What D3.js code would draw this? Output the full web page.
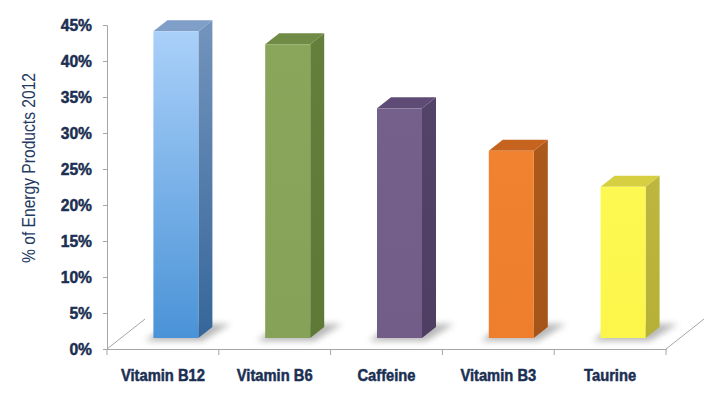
<!DOCTYPE html>
<html>
<head>
<meta charset="utf-8">
<script src="https://cdn.jsdelivr.net/npm/d3@7"></script>
<style>
  body { margin: 0; background: #fff; }
  svg { display: block; }
</style>
</head>
<body>
<div id="chart"></div>
<script>
// Share of energy products (2012) containing each ingredient
const categories = ['Vitamin B12', 'Vitamin B6', 'Caffeine', 'Vitamin B3', 'Taurine'];
const values = [42.6, 40.8, 31.9, 26, 21];
const yTicks = [0, 5, 10, 15, 20, 25, 30, 35, 40, 45];

// front / side / top colours for each bar (front uses a gradient top->bottom)
const frontTop = ['#aad0f9', '#8aa65b', '#75608c', '#f08230', '#fdf952'];
const frontBottom = ['#4a93d7', '#86a258', '#725c88', '#ee7e2b', '#fcf64a'];
const sideTop = ['#7394bd', '#647e3c', '#534368', '#ab5a1c', '#bdb73f'];
const sideBottom = ['#36669a', '#5e7836', '#4e3e62', '#a65519', '#b6b036'];
const topFace = ['#7f9fc8', '#6f8b45', '#5f4c76', '#c6641f', '#d6cf42'];

const width = 720;
const height = 399;
const margin = { top: 25, right: 54, bottom: 50, left: 107 };

// 3d offsets
const floorDx = 38, floorDy = 30;   // depth of the floor
const barShiftX = 13, barShiftY = 11; // front face of bar sits this far back
const depthX = 14, depthY = 11;     // depth of a bar
const barWidth = 45;

const labelColor = '#1b2f53';

const svg = d3.select('#chart').append('svg')
  .attr('width', width)
  .attr('height', height);

const xScale = d3.scaleBand()
  .domain(categories)
  .range([margin.left, width - margin.right])
  .paddingInner(0)
  .paddingOuter(0);

const yScale = d3.scaleLinear()
  .domain([0, 45])
  .range([height - margin.bottom, margin.top]);

const y0 = yScale(0);
const xEnd = width - margin.right;

const defs = svg.append('defs');
defs.append('filter')
  .attr('id', 'blur')
  .attr('x', '-50%').attr('y', '-50%').attr('width', '200%').attr('height', '200%')
  .append('feGaussianBlur')
  .attr('stdDeviation', 3);

categories.forEach((c, i) => {
  const g1 = defs.append('linearGradient')
    .attr('id', 'front' + i).attr('x1', 0).attr('y1', 0).attr('x2', 0).attr('y2', 1);
  g1.append('stop').attr('offset', '0%').attr('stop-color', frontTop[i]);
  g1.append('stop').attr('offset', '100%').attr('stop-color', frontBottom[i]);
  const g2 = defs.append('linearGradient')
    .attr('id', 'side' + i).attr('x1', 0).attr('y1', 0).attr('x2', 0).attr('y2', 1);
  g2.append('stop').attr('offset', '0%').attr('stop-color', sideTop[i]);
  g2.append('stop').attr('offset', '100%').attr('stop-color', sideBottom[i]);
});

// floor edges
svg.append('g')
  .attr('stroke', '#a6a6a6')
  .attr('stroke-width', 1)
  .selectAll('line')
  .data([margin.left, xEnd])
  .enter().append('line')
  .attr('x1', d => d)
  .attr('y1', y0)
  .attr('x2', d => d + floorDx)
  .attr('y2', y0 - floorDy);

// heavy, slightly condensed label text
function styleLabels(sel, size) {
  sel.attr('fill', labelColor)
    .attr('stroke', labelColor)
    .attr('stroke-width', 0.5)
    .attr('font-family', 'Liberation Sans, Arial, sans-serif')
    .attr('font-weight', 'bold')
    .attr('font-size', size + 'px')
    .each(function () {
      const len = this.getComputedTextLength();
      d3.select(this).attr('textLength', len * 0.92).attr('lengthAdjust', 'spacingAndGlyphs');
    });
}

// y axis
const yAxis = svg.append('g')
  .attr('transform', `translate(${margin.left},0)`)
  .call(d3.axisLeft(yScale).tickValues(yTicks).tickFormat(d => d + '%').tickSize(4).tickPadding(11));
yAxis.select('.domain').attr('stroke', '#a6a6a6');
yAxis.selectAll('.tick line').attr('stroke', '#a6a6a6');
styleLabels(yAxis.selectAll('text'), 17);

// x axis
const xAxis = svg.append('g')
  .attr('transform', `translate(0,${y0})`)
  .call(d3.axisBottom(xScale).tickSize(0).tickPadding(21));
xAxis.select('.domain').attr('stroke', '#a6a6a6');
styleLabels(xAxis.selectAll('text'), 16);
xAxis.append('g')
  .selectAll('line')
  .data(d3.range(categories.length + 1))
  .enter().append('line')
  .attr('x1', d => margin.left + d * xScale.bandwidth())
  .attr('x2', d => margin.left + d * xScale.bandwidth())
  .attr('y1', 0)
  .attr('y2', 6)
  .attr('stroke', '#a6a6a6');

// axis title
svg.append('text')
  .attr('transform', `translate(35,168) rotate(-90)`)
  .attr('text-anchor', 'middle')
  .attr('fill', '#1f3a63')
  .attr('font-family', 'Liberation Sans, Arial, sans-serif')
  .attr('font-size', '18px')
  .attr('textLength', 190)
  .attr('lengthAdjust', 'spacingAndGlyphs')
  .text('% of Energy Products 2012');

// bars
const bars = svg.selectAll('.bar')
  .data(categories.map((c, i) => ({ c, v: values[i], i })))
  .enter().append('g')
  .attr('class', 'bar');

const x0 = d => xScale(d.c) + xScale.bandwidth() / 2 - barWidth / 2 + barShiftX;
const x1 = d => x0(d) + barWidth;
const yb = y0 - barShiftY;
const yt = d => yScale(d.v) - barShiftY;

// shadow on the floor
bars.append('path')
  .attr('d', d => `M${x0(d) - 8},${yb + 3} L${x1(d) + 4},${yb + 3} L${x1(d) + depthX + 18},${yb - depthY - 3} L${x0(d) + depthX},${yb - depthY - 3} Z`)
  .attr('fill', '#9a9a9a')
  .attr('opacity', 0.7)
  .attr('filter', 'url(#blur)');

// side face
bars.append('path')
  .attr('d', d => `M${x1(d)},${yt(d)} L${x1(d) + depthX},${yt(d) - depthY} L${x1(d) + depthX},${yb - depthY} L${x1(d)},${yb} Z`)
  .attr('fill', d => `url(#side${d.i})`);

// top face
bars.append('path')
  .attr('d', d => `M${x0(d)},${yt(d)} L${x0(d) + depthX},${yt(d) - depthY} L${x1(d) + depthX},${yt(d) - depthY} L${x1(d)},${yt(d)} Z`)
  .attr('fill', d => topFace[d.i]);

// front face
bars.append('rect')
  .attr('x', d => x0(d))
  .attr('y', d => yt(d))
  .attr('width', barWidth)
  .attr('height', d => yb - yt(d))
  .attr('fill', d => `url(#front${d.i})`);
</script>
</body>
</html>
